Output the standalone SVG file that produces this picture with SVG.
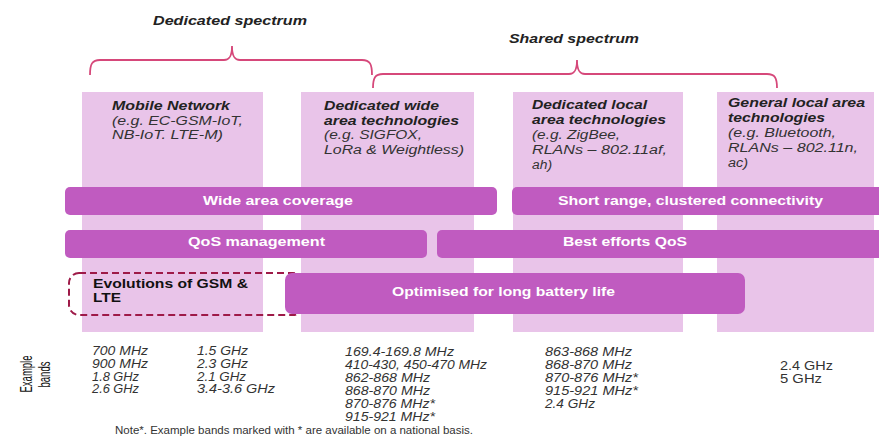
<svg xmlns="http://www.w3.org/2000/svg" width="879" height="440" viewBox="0 0 879 440">
<style>
text{font-family:"Liberation Sans",Arial,sans-serif;}
.col{fill:#e9c4e9;}
.bar{fill:#c05bc0;}
.bt{fill:#ffffff;font-weight:bold;font-size:12.5px;}
.hd{fill:#222;font-weight:bold;font-style:italic;font-size:13px;}
.ct{fill:#222;font-weight:bold;font-style:italic;font-size:12.5px;}
.cr{fill:#333;font-style:italic;font-size:12px;}
.bd{fill:#333;font-style:italic;font-size:12px;}
.bdu{fill:#333;font-size:12px;}
.vl{fill:#111;font-size:16px;font-family:"Liberation Sans Narrow","Liberation Sans",Arial,sans-serif;}
.brace{fill:none;stroke:#d6487a;stroke-width:1.8;}
.dash{fill:none;stroke:#9e1a48;stroke-width:2;stroke-dasharray:7,4;}
</style>

<g id="brackets">
<path class="brace" d="M90,75 C90,64 92,60 100,60 L224,60 C229,60 232,57 232,46 C232,57 235,60 240,60 L362,60 C370,60 372,64 372,75"/>
<path class="brace" d="M373,88 C373,78 375,74 383,74 L569,74 C574,74 577,71 577,60 C577,71 580,74 585,74 L767,74 C775,74 777,78 777,88"/>
<text class="hd" x="153" y="25" textLength="154" lengthAdjust="spacingAndGlyphs">Dedicated spectrum</text>
<text class="hd" x="509" y="43" textLength="130" lengthAdjust="spacingAndGlyphs">Shared spectrum</text>
</g>

<g id="col-mobile">
<rect class="col" x="82" y="92" width="181" height="240"/>
<text class="ct" x="112" y="110" textLength="118" lengthAdjust="spacingAndGlyphs">Mobile Network</text>
<text class="cr" x="112" y="124.5" textLength="131" lengthAdjust="spacingAndGlyphs">(e.g. EC-GSM-IoT,</text>
<text class="cr" x="112" y="139" textLength="111" lengthAdjust="spacingAndGlyphs">NB-IoT. LTE-M)</text>
</g>

<g id="col-dedicated-wide">
<rect class="col" x="301" y="92" width="173" height="240"/>
<text class="ct" x="324" y="110" textLength="115" lengthAdjust="spacingAndGlyphs">Dedicated wide</text>
<text class="ct" x="324" y="124.5" textLength="135" lengthAdjust="spacingAndGlyphs">area technologies</text>
<text class="cr" x="324" y="139" textLength="98" lengthAdjust="spacingAndGlyphs">(e.g. SIGFOX,</text>
<text class="cr" x="324" y="153.5" textLength="140" lengthAdjust="spacingAndGlyphs">LoRa &amp; Weightless)</text>
</g>

<g id="col-dedicated-local">
<rect class="col" x="513" y="92" width="170" height="240"/>
<text class="ct" x="532" y="109" textLength="115" lengthAdjust="spacingAndGlyphs">Dedicated local</text>
<text class="ct" x="532" y="124" textLength="134" lengthAdjust="spacingAndGlyphs">area technologies</text>
<text class="cr" x="532" y="139" textLength="88" lengthAdjust="spacingAndGlyphs">(e.g. ZigBee,</text>
<text class="cr" x="532" y="154" textLength="135" lengthAdjust="spacingAndGlyphs">RLANs – 802.11af,</text>
<text class="cr" x="532" y="169" textLength="20" lengthAdjust="spacingAndGlyphs">ah)</text>
</g>

<g id="col-general-local">
<rect class="col" x="717" y="92" width="157" height="240"/>
<text class="ct" x="728" y="107" textLength="137" lengthAdjust="spacingAndGlyphs">General local area</text>
<text class="ct" x="728" y="122" textLength="97" lengthAdjust="spacingAndGlyphs">technologies</text>
<text class="cr" x="728" y="137" textLength="108" lengthAdjust="spacingAndGlyphs">(e.g. Bluetooth,</text>
<text class="cr" x="728" y="152" textLength="130" lengthAdjust="spacingAndGlyphs">RLANs – 802.11n,</text>
<text class="cr" x="728" y="167" textLength="20" lengthAdjust="spacingAndGlyphs">ac)</text>
</g>

<g id="bar-wide-area">
<rect class="bar" x="65" y="187" width="432" height="28" rx="5"/>
<text class="bt" x="203" y="205" textLength="150" lengthAdjust="spacingAndGlyphs">Wide area coverage</text>
</g>
<g id="bar-short-range">
<rect class="bar" x="512" y="187" width="380" height="28" rx="5"/>
<text class="bt" x="558" y="205" textLength="265" lengthAdjust="spacingAndGlyphs">Short range, clustered connectivity</text>
</g>
<g id="bar-qos">
<rect class="bar" x="65" y="230" width="362" height="28" rx="5"/>
<text class="bt" x="188" y="246" textLength="137" lengthAdjust="spacingAndGlyphs">QoS management</text>
</g>
<g id="bar-best-efforts">
<rect class="bar" x="437" y="230" width="455" height="28" rx="5"/>
<text class="bt" x="563" y="246" textLength="124" lengthAdjust="spacingAndGlyphs">Best efforts QoS</text>
</g>
<g id="evolutions">
<rect class="dash" x="69" y="273" width="234" height="42" rx="10"/>
<text x="93" y="288" textLength="155" lengthAdjust="spacingAndGlyphs" style="fill:#111;font-weight:bold;font-size:12.5px">Evolutions of GSM &amp;</text>
<text x="93" y="302" textLength="28" lengthAdjust="spacingAndGlyphs" style="fill:#111;font-weight:bold;font-size:12.5px">LTE</text>
</g>
<g id="bar-battery">
<rect class="bar" x="285" y="273" width="460" height="41" rx="7"/>
<text class="bt" x="392" y="296" textLength="223" lengthAdjust="spacingAndGlyphs">Optimised for long battery life</text>
</g>

<g id="bands-label">
<text class="vl" x="32" y="374" transform="rotate(-90 32 374)" text-anchor="middle" textLength="37" lengthAdjust="spacingAndGlyphs">Example</text>
<text class="vl" x="50" y="374.5" transform="rotate(-90 50 374.5)" text-anchor="middle" textLength="26" lengthAdjust="spacingAndGlyphs">bands</text>
</g>

<g id="bands-mobile">
<text class="bd" x="92" y="355" textLength="56" lengthAdjust="spacingAndGlyphs">700 MHz</text>
<text class="bd" x="92" y="368" textLength="56" lengthAdjust="spacingAndGlyphs">900 MHz</text>
<text class="bd" x="92" y="380.5" textLength="47" lengthAdjust="spacingAndGlyphs">1.8 GHz</text>
<text class="bd" x="92" y="393" textLength="47" lengthAdjust="spacingAndGlyphs">2.6 GHz</text>
<text class="bd" x="197" y="355" textLength="51" lengthAdjust="spacingAndGlyphs">1.5 GHz</text>
<text class="bd" x="197" y="368" textLength="51" lengthAdjust="spacingAndGlyphs">2.3 GHz</text>
<text class="bd" x="197" y="380.5" textLength="49" lengthAdjust="spacingAndGlyphs">2.1 GHz</text>
<text class="bd" x="197" y="393" textLength="78" lengthAdjust="spacingAndGlyphs">3.4-3.6 GHz</text>
</g>

<g id="bands-dedicated-wide">
<text class="bd" x="345" y="356" textLength="109" lengthAdjust="spacingAndGlyphs">169.4-169.8 MHz</text>
<text class="bd" x="345" y="369" textLength="142" lengthAdjust="spacingAndGlyphs">410-430, 450-470 MHz</text>
<text class="bd" x="345" y="382" textLength="85" lengthAdjust="spacingAndGlyphs">862-868 MHz</text>
<text class="bd" x="345" y="395" textLength="85" lengthAdjust="spacingAndGlyphs">868-870 MHz</text>
<text class="bd" x="345" y="408" textLength="90" lengthAdjust="spacingAndGlyphs">870-876 MHz*</text>
<text class="bd" x="345" y="421" textLength="90" lengthAdjust="spacingAndGlyphs">915-921 MHz*</text>
</g>

<g id="bands-dedicated-local">
<text class="bd" x="545" y="356" textLength="87" lengthAdjust="spacingAndGlyphs">863-868 MHz</text>
<text class="bd" x="545" y="369" textLength="87" lengthAdjust="spacingAndGlyphs">868-870 MHz</text>
<text class="bd" x="545" y="382" textLength="93" lengthAdjust="spacingAndGlyphs">870-876 MHz*</text>
<text class="bd" x="545" y="395" textLength="93" lengthAdjust="spacingAndGlyphs">915-921 MHz*</text>
<text class="bd" x="545" y="408" textLength="50" lengthAdjust="spacingAndGlyphs">2.4 GHz</text>
</g>

<g id="bands-general-local">
<text class="bdu" x="780" y="370" textLength="53" lengthAdjust="spacingAndGlyphs">2.4 GHz</text>
<text class="bdu" x="780" y="383" textLength="42" lengthAdjust="spacingAndGlyphs">5 GHz</text>
</g>

<text x="115" y="434" textLength="358" lengthAdjust="spacingAndGlyphs" style="fill:#333;font-size:11.5px">Note*. Example bands marked with * are available on a national basis.</text>
</svg>
